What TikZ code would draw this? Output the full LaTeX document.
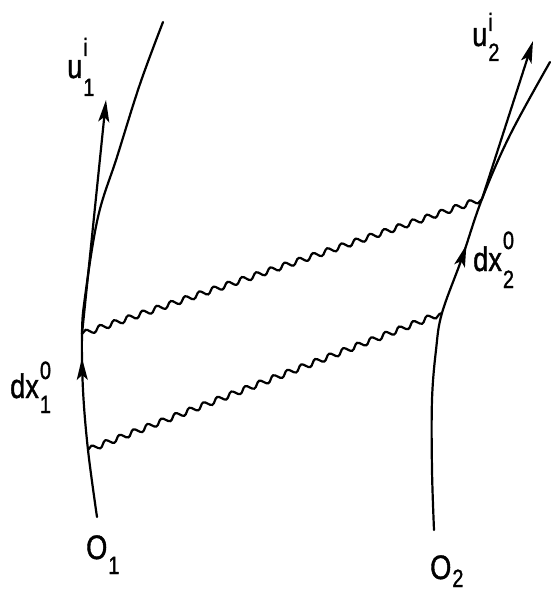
\documentclass[tikz,border=0pt]{standalone}
\usepackage{fontspec}
\usetikzlibrary{arrows.meta,decorations.pathmorphing,decorations.markings}
\newfontfamily\lett[FakeStretch=0.8,FakeBold=1.2]{Liberation Sans}
\newcommand\mainsz{\fontsize{34}{38}\selectfont}
\newcommand\scsz{\fontsize{25}{29}\selectfont}
% #1 main, #2 subscript, #3 superscript, #4 raise, #5 lower
\newcommand\lbl[5]{{\mainsz #1}\kern1pt\rlap{\raisebox{#4}{\scsz #3}}\raisebox{-#5}{\scsz #2}}
\begin{document}
\begin{tikzpicture}[x=1pt,y=-1pt,
  world/.style={line width=2.2pt, line cap=round},
  vec/.style={line width=2.2pt, -{Stealth[length=22pt,width=11pt,inset=5pt]}},
  photon/.style={line width=2.2pt, decorate,
    decoration={snake, segment length=15pt, amplitude=2.8pt}},
  midarrow/.style={postaction={decorate, decoration={markings,
    mark=at position #1 with {\arrow{Stealth[length=22pt,width=11pt,inset=5pt]}}}}},
  lab/.style={font=\lett, inner sep=0pt, anchor=base west}]
\useasboundingbox (0,0) rectangle (550,599);
% left world line
\coordinate (L0) at (97,517);
\coordinate (L1) at (88,450);
\coordinate (L2) at (83,390);
\coordinate (L3) at (82,334);
\coordinate (L4) at (85,297);
\coordinate (L5) at (98,217);
\coordinate (L6) at (117,157);
\coordinate (L7) at (140,84);
\coordinate (L8) at (163,22);
% right world line
\coordinate (R0) at (434,530);
\coordinate (R1) at (432,470);
\coordinate (R2) at (432,400);
\coordinate (R3) at (436,350);
\coordinate (R4) at (442,313);
\coordinate (R5) at (462,258);
\coordinate (R6) at (482,199);
\coordinate (R7) at (510,135);
\coordinate (R8) at (550,62);
% vector tips
\coordinate (U1) at (106,100);
\coordinate (U2) at (533,41);

\draw[world, midarrow=0.315] plot[smooth, tension=0.6] coordinates {(L0) (L1) (L2) (L3) (L4) (L5) (L6) (L7) (L8)};
\draw[world, midarrow=0.59] plot[smooth, tension=0.6] coordinates {(R0) (R1) (R2) (R3) (R4) (R5) (R6) (R7) (R8)};

\draw[photon] (L3) -- (R6);
\draw[photon] (L1) -- (R4);

\draw[vec] (L3) -- (U1);
\draw[vec] (R6) -- (U2);

\node[lab] (u1) at (67,78) {\lbl{u}{1}{i}{22pt}{18pt}};
\node[lab] (u2) at (472,46) {\lbl{u}{2}{i}{15pt}{15pt}};
\node[lab] (d1) at (10,398) {\lbl{dx}{1}{0}{19pt}{15pt}};
\node[lab] (d2) at (473,271) {\lbl{dx}{2}{0}{22pt}{17pt}};
\node[lab] (o1) at (86,559) {\lbl{O}{1}{}{0pt}{15pt}};
\node[lab] (o2) at (430,579) {\lbl{O}{2}{}{0pt}{8pt}};
\end{tikzpicture}
\end{document}
